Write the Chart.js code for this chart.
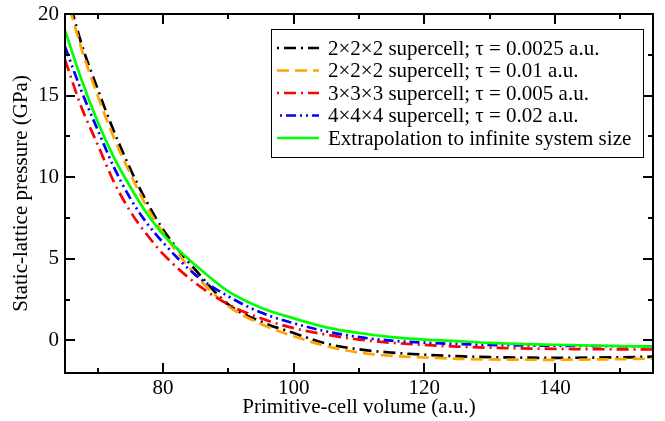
<!DOCTYPE html>
<html>
<head>
<meta charset="utf-8">
<script src="https://cdn.jsdelivr.net/npm/chart.js@4.4.1/dist/chart.umd.min.js"></script>
<style>
  html, body { margin: 0; padding: 0; background: #fff; }
  #wrap { width: 665px; height: 421px; }
</style>
</head>
<body>
<div id="wrap"><canvas id="eos"></canvas></div>
<script>
/* static-lattice pressure vs primitive-cell volume */
const volume = [65, 67.5, 70, 72.5, 75, 77.5, 80, 85, 90, 95, 100, 105, 110, 115, 120, 125, 130, 140, 150, 155];

const sc2_tau0025 = [21.8, 18.2, 15.4, 12.8, 10.5, 8.5, 6.8, 4.3, 2.2, 1.15, 0.45, -0.2, -0.55, -0.75, -0.88, -0.97, -1.03, -1.07, -1.04, -1.0];
const sc2_tau001  = [21.4, 17.9, 15.0, 12.4, 10.2, 8.2, 6.6, 4.0, 2.1, 1.0, 0.25, -0.35, -0.75, -0.95, -1.05, -1.13, -1.17, -1.19, -1.15, -1.12];
const sc3_tau0005 = [17.2, 14.3, 12.0, 9.7, 7.9, 6.5, 5.3, 3.5, 2.2, 1.35, 0.75, 0.35, 0.05, -0.15, -0.28, -0.38, -0.45, -0.52, -0.55, -0.56];
const sc4_tau002  = [18.0, 15.3, 12.9, 10.6, 8.7, 7.2, 6.0, 4.0, 2.7, 1.7, 1.05, 0.55, 0.2, -0.02, -0.14, -0.22, -0.28, -0.33, -0.36, -0.37];
const extrapolated = [19.0, 16.0, 13.4, 11.2, 9.4, 7.8, 6.5, 4.6, 3.0, 2.0, 1.35, 0.8, 0.45, 0.2, 0.05, -0.05, -0.15, -0.27, -0.35, -0.38];

const seriesLabels = [
  '2×2×2 supercell; τ = 0.0025 a.u.',
  '2×2×2 supercell; τ = 0.01 a.u.',
  '3×3×3 supercell; τ = 0.005 a.u.',
  '4×4×4 supercell; τ = 0.02 a.u.',
  'Extrapolation to infinite system size'
];

const xTicks = [80, 100, 120, 140];
const xMinor = [70, 90, 110, 130, 150];
const yTicks = [0, 5, 10, 15, 20];
const yMinor = [2.5, 7.5, 12.5, 17.5];

const SERIF = '"Liberation Serif", "Times New Roman", serif';
const FONT_PX = 21;

const pts = (arr) => volume.map((v, i) => ({ x: v, y: arr[i] }));

function line(label, arr, color, dash, order) {
  return {
    label,
    data: pts(arr),
    borderColor: color,
    borderDash: dash,
    borderWidth: 2.7,
    pointRadius: 0,
    cubicInterpolationMode: 'monotone',
    fill: false,
    order
  };
}

// frame + inward ticks on all four sides (xmgrace style)
const frame = {
  id: 'frame',
  afterDraw(chart) {
    const { ctx, chartArea: a } = chart;
    const x = chart.scales.x, y = chart.scales.y;
    ctx.save();
    ctx.setLineDash([]);
    ctx.strokeStyle = '#000';
    ctx.fillStyle = '#000';
    ctx.lineWidth = 2;
    const vx = (vals, len) => vals.forEach(v => {
      const px = Math.round(x.getPixelForValue(v)) - 1;
      ctx.fillRect(px, a.bottom - len, 2, len);
      ctx.fillRect(px, a.top, 2, len);
    });
    const hy = (vals, len) => vals.forEach(v => {
      const py = Math.round(y.getPixelForValue(v)) - 1;
      ctx.fillRect(a.left, py, len, 2);
      ctx.fillRect(a.right - len, py, len, 2);
    });
    vx(xTicks, 10); vx(xMinor, 5);
    hy(yTicks, 10); hy(yMinor, 5);
    ctx.strokeRect(a.left, a.top, a.right - a.left, a.bottom - a.top);
    ctx.restore();
  }
};

// boxed legend in the upper right of the plot
const boxLegend = {
  id: 'boxLegend',
  afterDraw(chart) {
    const { ctx } = chart;
    const box = { left: 271, top: 29, width: 372, height: 128 };
    ctx.save();
    ctx.fillStyle = '#fff';
    ctx.fillRect(box.left, box.top, box.width, box.height);
    ctx.strokeStyle = '#000';
    ctx.lineWidth = 1;
    ctx.setLineDash([]);
    ctx.strokeRect(box.left + 0.5, box.top + 0.5, box.width, box.height);
    ctx.font = FONT_PX + 'px ' + SERIF;
    ctx.textBaseline = 'middle';
    chart.data.datasets.forEach((ds, i) => {
      const cy = box.top + 19 + i * 22.5;
      ctx.strokeStyle = ds.borderColor;
      ctx.lineWidth = ds.borderWidth;
      ctx.setLineDash(ds.borderDash || []);
      ctx.lineDashOffset = (ds.borderDash && ds.borderDash.length > 2) ? 17 : 0;
      ctx.beginPath();
      ctx.moveTo(277, cy);
      ctx.lineTo(319, cy);
      ctx.stroke();
      ctx.setLineDash([]);
      ctx.lineDashOffset = 0;
      ctx.fillStyle = '#000';
      ctx.fillText(ds.label, 328, cy + 1);
    });
    ctx.restore();
  }
};

new Chart(document.getElementById('eos'), {
  type: 'line',
  data: {
    datasets: [
      line(seriesLabels[0], sc2_tau0025, '#000000', [12, 5, 2, 5], 5),
      line(seriesLabels[1], sc2_tau001, '#ffa500', [12, 6], 4),
      line(seriesLabels[2], sc3_tau0005, '#ff0000', [12, 5, 2, 5], 3),
      line(seriesLabels[3], sc4_tau002, '#0000ff', [10, 4, 2, 4, 2, 4], 2),
      line(seriesLabels[4], extrapolated, '#00ff00', [], 1)
    ]
  },
  options: {
    responsive: true,
    maintainAspectRatio: false,
    animation: false,
    devicePixelRatio: 1,
    layout: { padding: { top: 14, right: 12, left: 0, bottom: 0 } },
    plugins: { legend: { display: false }, tooltip: { enabled: false } },
    scales: {
      x: {
        type: 'linear',
        min: 65,
        max: 155,
        afterBuildTicks: (s) => { s.ticks = xTicks.map(v => ({ value: v })); },
        afterFit: (s) => { s.height = 48; s.paddingLeft = 0; s.paddingRight = 0; },
        grid: { display: false, drawTicks: false },
        border: { display: false },
        ticks: {
          color: '#000',
          padding: 3,
          maxRotation: 0,
          font: { family: SERIF, size: FONT_PX }
        },
        title: {
          display: true,
          text: 'Primitive-cell volume (a.u.)',
          color: '#000',
          padding: { top: 0, bottom: 1 },
          font: { family: SERIF, size: FONT_PX }
        }
      },
      y: {
        min: -2,
        max: 20,
        afterBuildTicks: (s) => { s.ticks = yTicks.map(v => ({ value: v })); },
        afterFit: (s) => { s.width = 65; s.paddingTop = 0; s.paddingBottom = 0; },
        grid: { display: false, drawTicks: false },
        border: { display: false },
        ticks: {
          color: '#000',
          padding: 6,
          font: { family: SERIF, size: FONT_PX }
        },
        title: {
          display: true,
          text: 'Static-lattice pressure (GPa)',
          color: '#000',
          padding: { top: 9, bottom: 0 },
          font: { family: SERIF, size: FONT_PX }
        }
      }
    }
  },
  plugins: [frame, boxLegend]
});
</script>
</body>
</html>
